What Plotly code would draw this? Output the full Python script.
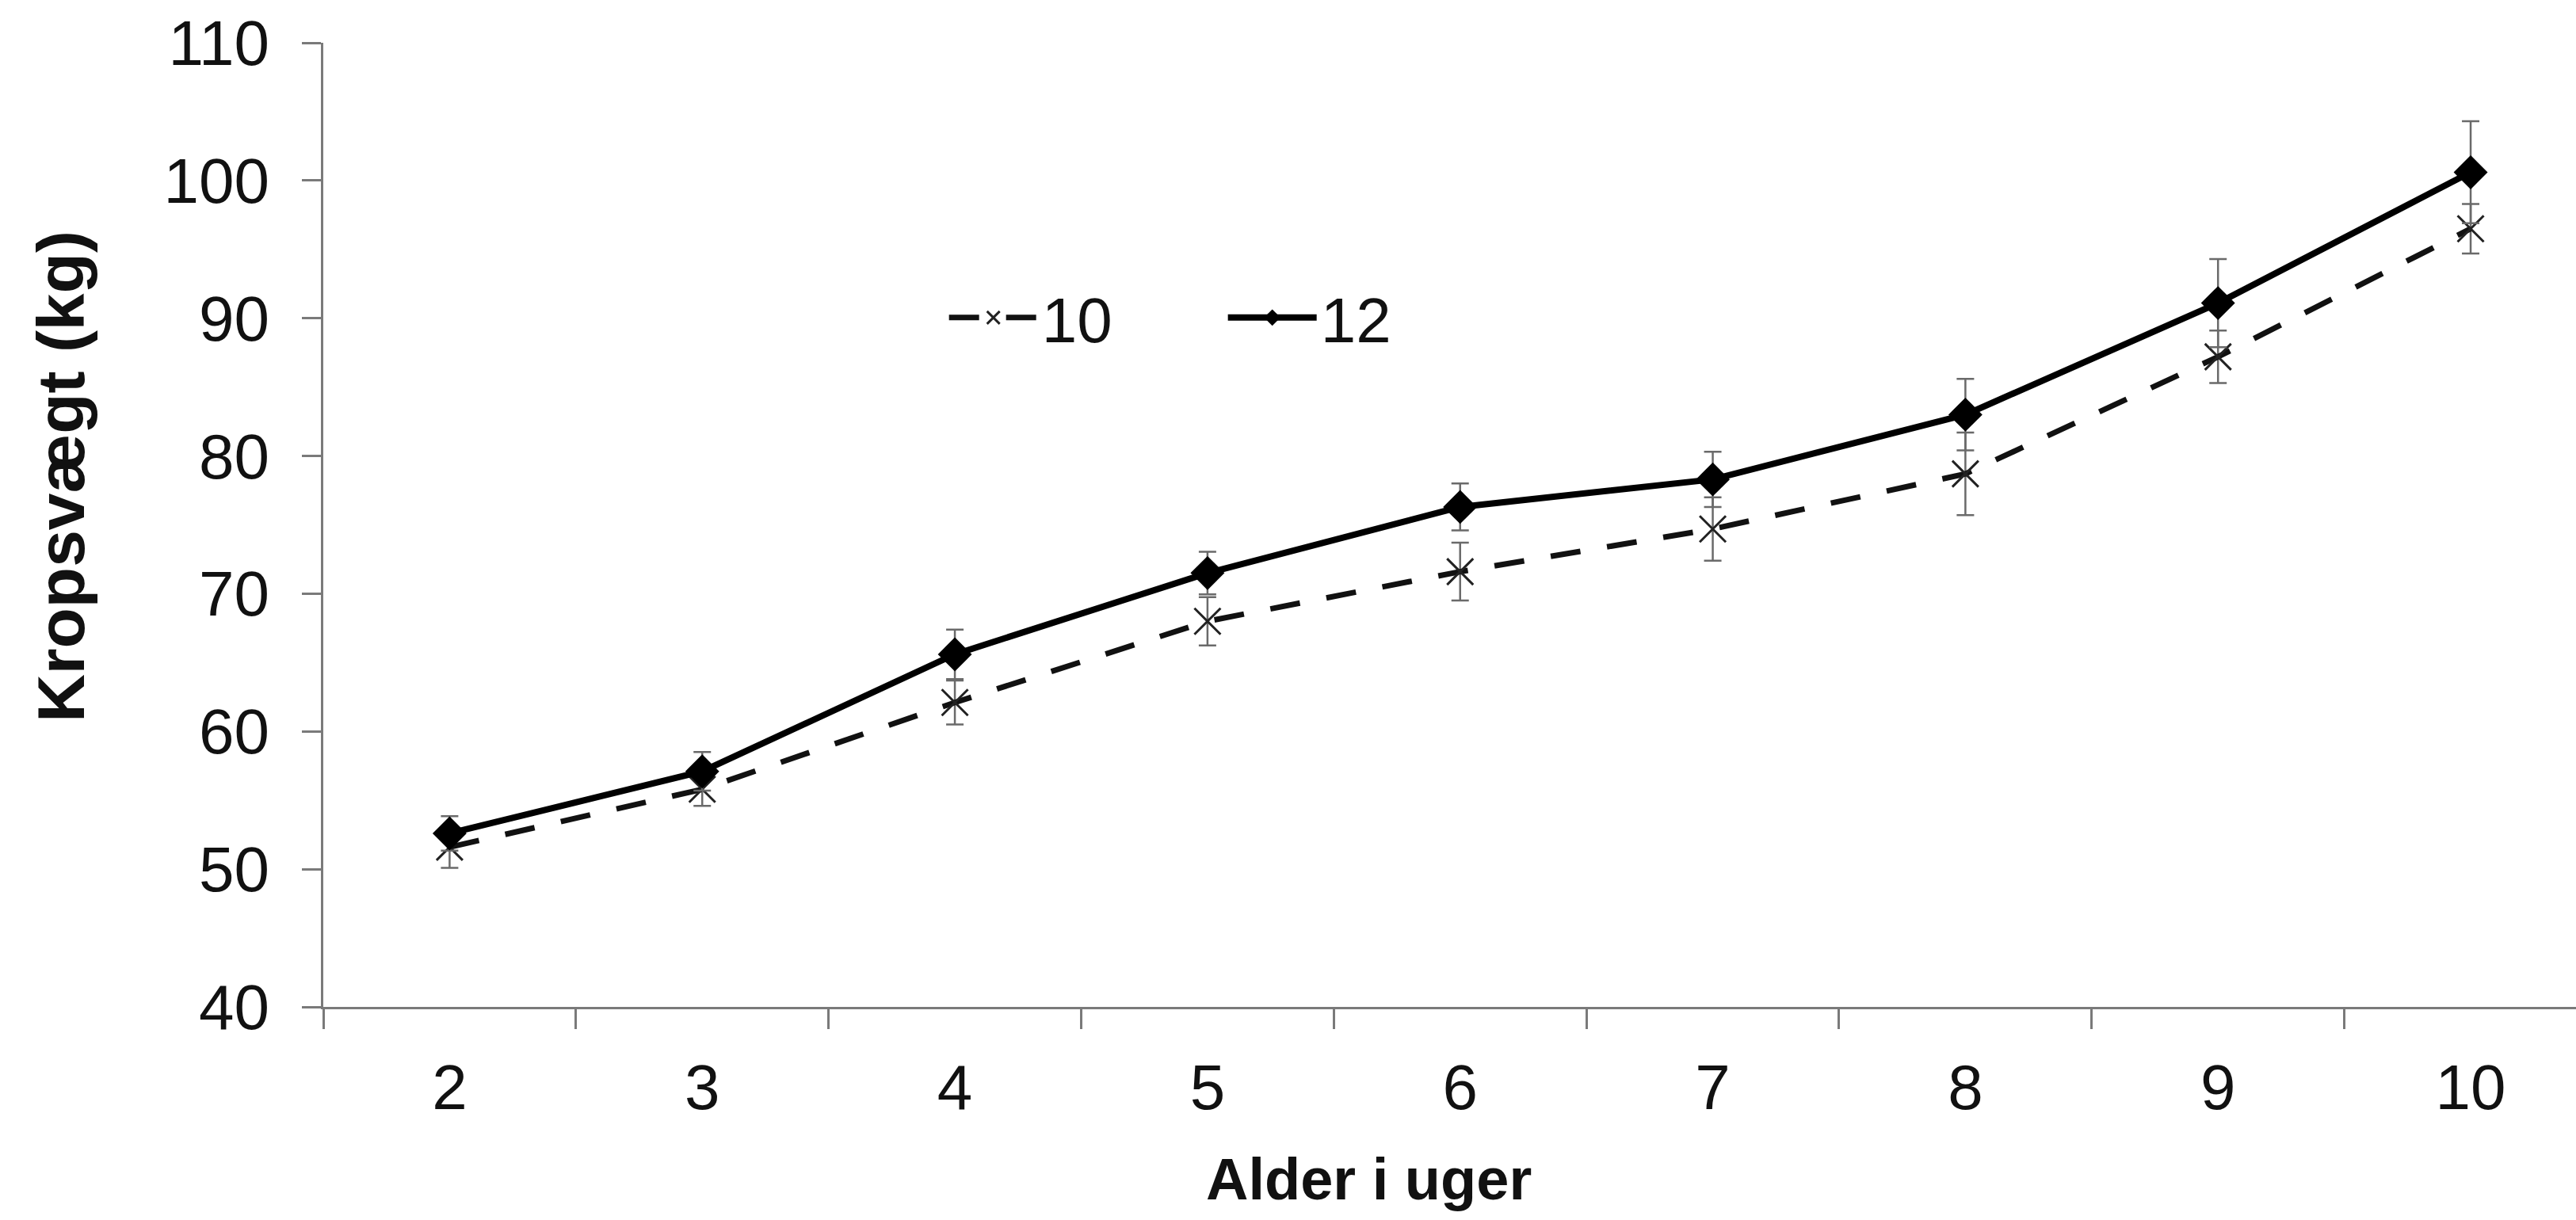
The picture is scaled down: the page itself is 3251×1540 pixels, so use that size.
import plotly.graph_objects as go

weeks = ["2", "3", "4", "5", "6", "7", "8", "9", "10"]
series_names = ["10", "12"]
vals_10 = [51.6, 55.8, 62.1, 68.0, 71.6, 74.7, 78.7, 87.2, 96.5]
err_10 = [1.5, 1.2, 1.6, 1.75, 2.1, 2.3, 3.0, 1.9, 1.8]
vals_12 = [52.6, 57.1, 65.6, 71.5, 76.3, 78.3, 83.0, 91.1, 100.6]
err_12 = [1.25, 1.4, 1.8, 1.55, 1.7, 2.0, 2.6, 3.2, 3.7]
y_ticks = [40, 50, 60, 70, 80, 90, 100, 110]
x_title = "Alder i uger"
y_title = "Kropsvægt (kg)"

FONT = "Liberation Sans, Arial, sans-serif"
AXIS_COL = "#7a7a7a"
ERR_COL = "#6a6a6a"

fig = go.Figure()
fig.add_trace(go.Scatter(
    x=weeks, y=vals_10, name=series_names[0], mode="lines+markers",
    line=dict(color="#111111", width=7, dash="38px,34px"),
    marker=dict(symbol="x-thin-open", size=33, color="#222222",
                line=dict(color="#222222", width=3)),
    error_y=dict(type="data", array=err_10, visible=True,
                 color=ERR_COL, thickness=2.5, width=11),
))
fig.add_trace(go.Scatter(
    x=weeks, y=vals_12, name=series_names[1], mode="lines+markers",
    line=dict(color="#000000", width=8),
    marker=dict(symbol="diamond", size=33, color="#000000"),
    error_y=dict(type="data", array=err_12, visible=True,
                 color=ERR_COL, thickness=2.5, width=11),
))

fig.update_layout(
    width=3251, height=1540,
    margin=dict(l=408, r=0, t=54, b=269),
    paper_bgcolor="white", plot_bgcolor="white",
    font=dict(family=FONT, size=80, color="#111111"),
    showlegend=True,
    legend=dict(
        orientation="h", x=0.276, y=0.715, xanchor="left", yanchor="middle",
        font=dict(size=80, family=FONT, color="#111111"),
        itemwidth=112, entrywidth=225, entrywidthmode="pixels",
        bgcolor="rgba(0,0,0,0)", tracegroupgap=0,
    ),
    annotations=[
        dict(text=f"<b>{x_title}</b>", xref="paper", yref="paper",
             x=0.464, y=-0.179, xanchor="center", yanchor="middle",
             showarrow=False, font=dict(size=74, family=FONT, color="#111111")),
        dict(text=f"<b>{y_title}</b>", xref="paper", yref="paper",
             x=-0.1165, y=0.5505, xanchor="center", yanchor="middle",
             textangle=-90, showarrow=False,
             font=dict(size=84, family=FONT, color="#111111")),
    ],
)

fig.update_xaxes(
    type="category", range=[-0.5, 8.417],
    showline=True, linecolor=AXIS_COL, linewidth=3,
    ticks="outside", ticklen=25, tickwidth=2.5, tickcolor=AXIS_COL,
    tickson="boundaries", showgrid=False, zeroline=False,
    tickfont=dict(size=80, family=FONT, color="#111111"),
    ticklabelstandoff=30,
)
fig.update_yaxes(
    range=[40, 110], tickvals=y_ticks,
    showline=True, linecolor=AXIS_COL, linewidth=3,
    ticks="outside", ticklen=24, tickwidth=2.5, tickcolor=AXIS_COL,
    showgrid=False, zeroline=False,
    tickfont=dict(size=80, family=FONT, color="#111111"),
    ticklabelstandoff=25,
)

fig.write_html("out.html")
